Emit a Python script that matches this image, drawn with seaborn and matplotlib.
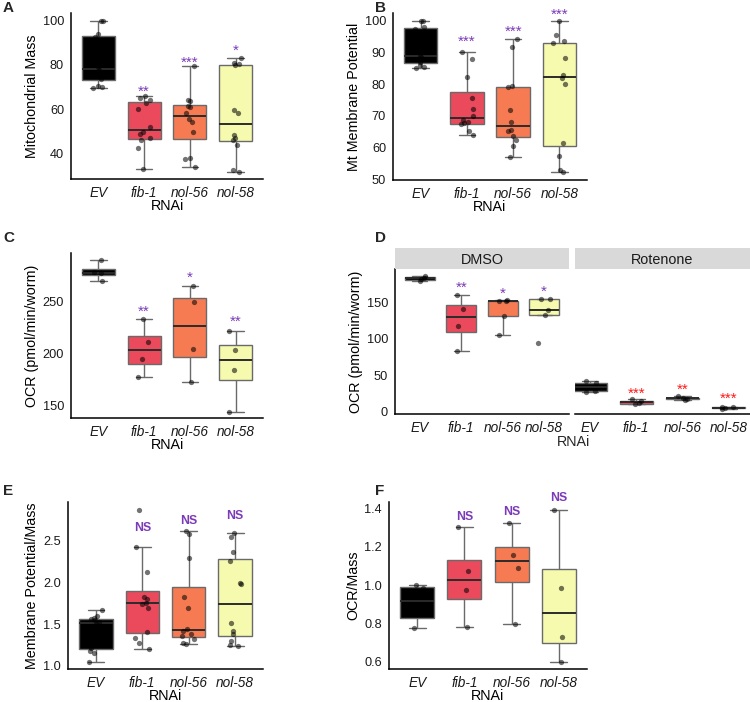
import numpy as np
import pandas as pd
import matplotlib
matplotlib.use("Agg")
import matplotlib.pyplot as plt
import seaborn as sns

# ----------------------------
# Data
# ----------------------------
rnai = ["EV", "fib-1", "nol-56", "nol-58"]
box_colors = ["#000000", "#EA4A5C", "#F77B52", "#F6FAAE"]

# A - mitochondrial mass
mito_mass = [
    [69.6, 70.0, 70.7, 73.8, 76.0, 77.5, 79.0, 84.0, 92.5, 94.0, 100.0, 100.0],
    [32.7, 42.3, 46.0, 46.8, 48.6, 49.5, 52.0, 60.0, 62.7, 64.0, 65.0, 66.0],
    [34.0, 37.6, 37.9, 49.5, 54.1, 55.5, 58.2, 60.8, 61.2, 63.8, 64.2, 79.7],
    [31.7, 32.4, 43.8, 46.1, 47.1, 48.3, 58.4, 59.7, 80.0, 80.3, 80.7, 83.0],
]
mito_mass_sig = ["", "**", "***", "*"]
mito_mass_sig_y = [0, 70.1, 83.0, 88.6]

# B - membrane potential
mt_potential = [
    [85.2, 85.5, 86.0, 87.0, 88.0, 88.5, 89.0, 92.0, 97.5, 98.0, 100.0, 100.0],
    [63.9, 65.3, 67.4, 67.6, 67.9, 68.8, 70.0, 72.2, 75.7, 82.4, 88.0, 90.2],
    [57.0, 60.6, 62.3, 63.6, 65.3, 65.5, 68.1, 71.8, 79.0, 79.3, 91.7, 94.2],
    [52.3, 52.8, 57.3, 61.3, 80.2, 81.8, 82.8, 88.3, 92.9, 93.7, 95.5, 100.0],
]
mt_potential_sig = ["", "***", "***", "***"]
mt_potential_sig_y = [0, 95.0, 98.1, 103.4]

# C - OCR
ocr = [
    [270.0, 277.5, 278.5, 290.0],
    [177.9, 194.6, 211.5, 233.0],
    [173.0, 204.5, 249.7, 265.0],
    [144.2, 184.3, 203.6, 222.1],
]
ocr_sig = ["", "**", "*", "**"]
ocr_sig_y = [0, 245.0, 278.0, 235.0]

# D - OCR with DMSO / Rotenone
ocr_dmso = [
    [179.8, 182.0, 184.0, 185.8],
    [83.5, 117.4, 141.3, 159.6],
    [105.5, 131.7, 151.5, 152.3, 152.8],
    [93.6, 133.0, 139.9, 154.6, 155.2],
]
ocr_dmso_sig = ["", "**", "*", "*"]
ocr_dmso_sig_y = [0, 176.6, 168.3, 171.0]

ocr_rotenone = [
    [26.6, 28.4, 39.0, 41.3],
    [10.0, 11.0, 14.0, 17.4],
    [15.8, 17.6, 18.4, 21.0],
    [3.5, 5.0, 5.5, 5.8],
]
ocr_rotenone_sig = ["", "***", "**", "***"]
ocr_rotenone_sig_y = [0, 30.7, 36.2, 23.9]

# E - membrane potential / mass
potential_mass = [
    [1.05, 1.15, 1.18, 1.21, 1.35, 1.50, 1.53, 1.55, 1.56, 1.57, 1.60, 1.67],
    [1.196, 1.276, 1.336, 1.404, 1.688, 1.74, 1.756, 1.796, 1.82, 2.128, 2.428, 2.868],
    [1.264, 1.276, 1.32, 1.36, 1.38, 1.42, 1.436, 1.696, 1.828, 2.292, 2.58, 2.616],
    [1.24, 1.252, 1.30, 1.38, 1.42, 1.509, 1.985, 1.993, 2.26, 2.368, 2.553, 2.593],
]
potential_mass_sig = ["", "NS", "NS", "NS"]
potential_mass_sig_y = [0, 2.668, 2.756, 2.816]

# F - OCR / mass
ocr_mass = [
    [0.774, 0.850, 0.986, 1.0],
    [0.783, 0.976, 1.075, 1.304],
    [0.795, 1.092, 1.157, 1.327],
    [0.600, 0.730, 0.983, 1.391],
]
ocr_mass_sig = ["", "NS", "NS", "NS"]
ocr_mass_sig_y = [0, 1.365, 1.388, 1.461]

# ----------------------------
# Style
# ----------------------------
sns.set_theme(style="white")
plt.rcParams["font.family"] = ["Liberation Sans", "DejaVu Sans"]
np.random.seed(7)

PURPLE = "#7B3AB8"
RED = "#FF1A1A"
W, H = 750, 702

fig = plt.figure(figsize=(W / 100, H / 100), dpi=100)


def px_axes(left, top, right, bottom):
    return fig.add_axes([left / W, 1 - bottom / H, (right - left) / W, (bottom - top) / H])


def long_df(groups):
    return pd.DataFrame({
        "RNAi": np.repeat(rnai, [len(g) for g in groups]),
        "value": np.concatenate(groups),
    })


def draw_boxes(ax, groups, ylim, yticks, fmt="{:g}"):
    df = long_df(groups)
    sns.boxplot(data=df, x="RNAi", y="value", hue="RNAi", palette=box_colors,
                saturation=1, width=0.72, linecolor="#6a6a6a", linewidth=1.0,
                showfliers=False, legend=False, ax=ax,
                medianprops=dict(color="#2b2b2b", linewidth=1.4))
    sns.stripplot(data=df, x="RNAi", y="value", color="black", alpha=0.55,
                  size=3.8, jitter=0.15, linewidth=0, ax=ax)
    ax.set_xlim(-0.6, 3.6)
    ax.set_ylim(*ylim)
    ax.set_yticks(yticks)
    ax.set_yticklabels([fmt.format(t) for t in yticks])
    ax.tick_params(axis="both", length=3, width=0.9, color="black",
                   labelcolor="#1a1a1a", pad=2)
    ax.tick_params(axis="y", labelsize=9.2)
    ax.tick_params(axis="x", labelsize=9.8)
    for lab in ax.get_xticklabels():
        lab.set_fontstyle("italic")
    for s in ["top", "right"]:
        ax.spines[s].set_visible(False)
    for s in ["left", "bottom"]:
        ax.spines[s].set_linewidth(1.1)
        ax.spines[s].set_color("black")
    ax.set_xlabel("")
    ax.set_ylabel("")


def add_sig(ax, labels, ys, color):
    for i, (lab, y) in enumerate(zip(labels, ys)):
        if not lab:
            continue
        if lab == "NS":
            ax.annotate(lab, (i, y), xytext=(0, -3.1), textcoords="offset points",
                        ha="center", va="baseline", color=color, fontsize=8.8,
                        fontweight="bold", annotation_clip=False)
        else:
            ax.annotate(lab, (i, y), xytext=(0, -6.3), textcoords="offset points",
                        ha="center", va="baseline", color=color, fontsize=11,
                        annotation_clip=False)


def labels(ax, ylabel, xlabel=True):
    ax.set_ylabel(ylabel, fontsize=10.3, color="black", labelpad=3)
    if xlabel:
        ax.set_xlabel("RNAi", fontsize=10.3, color="black", labelpad=-0.5)


# A
ax_a = px_axes(71, 13, 263, 179)
draw_boxes(ax_a, mito_mass, (28.4, 103.5), [40, 60, 80, 100])
add_sig(ax_a, mito_mass_sig, mito_mass_sig_y, PURPLE)
labels(ax_a, "Mitochondrial Mass")

# B
ax_b = px_axes(393, 13, 587, 180)
draw_boxes(ax_b, mt_potential, (49.7, 102.5), [50, 60, 70, 80, 90, 100])
add_sig(ax_b, mt_potential_sig, mt_potential_sig_y, PURPLE)
labels(ax_b, "Mt Membrane Potential")

# C
ax_c = px_axes(71, 253, 263, 418)
draw_boxes(ax_c, ocr, (138, 297), [150, 200, 250])
add_sig(ax_c, ocr_sig, ocr_sig_y, PURPLE)
labels(ax_c, "OCR (pmol/min/worm)")

# D (two facets)
ax_d1 = px_axes(395, 269, 569, 414)
draw_boxes(ax_d1, ocr_dmso, (-3.6, 196), [0, 50, 100, 150])
add_sig(ax_d1, ocr_dmso_sig, ocr_dmso_sig_y, PURPLE)
labels(ax_d1, "OCR (pmol/min/worm)", xlabel=False)

ax_d2 = px_axes(575, 269, 750, 414)
draw_boxes(ax_d2, ocr_rotenone, (-3.6, 196), [0, 50, 100, 150])
ax_d2.set_xlim(-0.33, 3.47)
add_sig(ax_d2, ocr_rotenone_sig, ocr_rotenone_sig_y, RED)
ax_d2.spines["left"].set_visible(False)
ax_d2.tick_params(axis="y", left=False, labelleft=False)

for (l, r), name in zip([(395, 569), (575, 750)], ["DMSO", "Rotenone"]):
    strip = px_axes(l, 248, r, 269)
    strip.set_facecolor("#D9D9D9")
    strip.set_xticks([])
    strip.set_yticks([])
    for s in strip.spines.values():
        s.set_visible(False)
    strip.text(0.5, 0.45, name, ha="center", va="center", fontsize=10.4,
               color="#1a1a1a", transform=strip.transAxes)

fig.text(573 / W, 1 - 442 / H, "RNAi", ha="center", va="center", fontsize=10.3)

# E
ax_e = px_axes(68, 502, 263, 669)
draw_boxes(ax_e, potential_mass, (0.96, 2.968), [1.0, 1.5, 2.0, 2.5], fmt="{:.1f}")
add_sig(ax_e, potential_mass_sig, potential_mass_sig_y, PURPLE)
labels(ax_e, "Membrane Potential/Mass")

# F
ax_f = px_axes(389, 502, 587, 669)
draw_boxes(ax_f, ocr_mass, (0.562, 1.435), [0.6, 0.8, 1.0, 1.2, 1.4], fmt="{:.1f}")
add_sig(ax_f, ocr_mass_sig, ocr_mass_sig_y, PURPLE)
labels(ax_f, "OCR/Mass")

# panel letters
for letter, x, y in [("A", 3, 1), ("B", 375, 1), ("C", 3, 231), ("D", 375, 231),
                     ("E", 3, 484), ("F", 375, 484)]:
    fig.text(x / W, 1 - y / H, letter, ha="left", va="top", fontsize=11,
             fontweight="bold")

plt.savefig("out.png", dpi=100)
plt.close()
